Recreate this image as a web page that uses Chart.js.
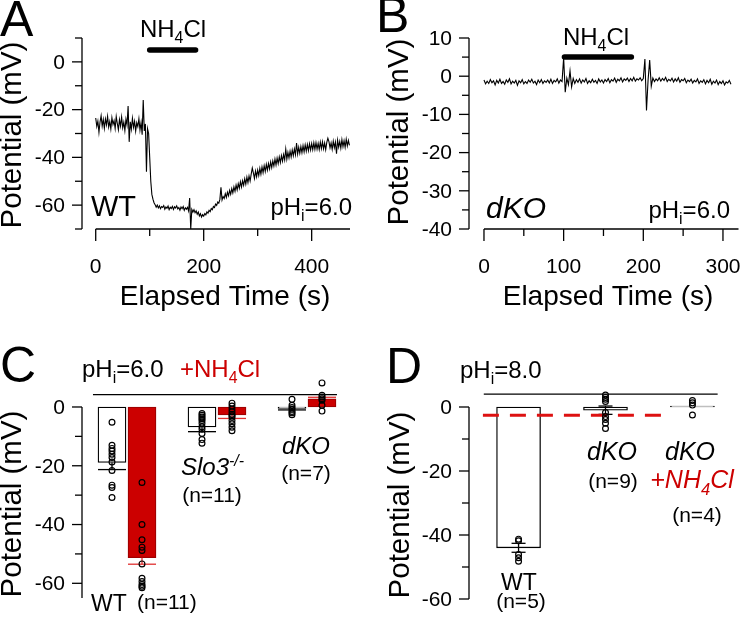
<!DOCTYPE html>
<html><head><meta charset="utf-8">
<script src="https://cdn.jsdelivr.net/npm/chart.js@4.4.1/dist/chart.umd.min.js"></script>
<style>
html,body{margin:0;padding:0;background:#fff;}
#wrap{position:relative;width:740px;height:617px;overflow:hidden;background:#fff;}
canvas{position:absolute;left:0;top:0;}
</style></head><body>
<div id="wrap">
<canvas id="cA" width="740" height="617"></canvas>
<canvas id="cB" width="740" height="617"></canvas>
<canvas id="cC" width="740" height="617"></canvas>
<canvas id="cD" width="740" height="617"></canvas>
</div>
<script>
const FONT = '"Liberation Sans", Arial, Helvetica, sans-serif';
const RED = '#cc0000';

// ---------- Panel A : WT trace (mV), sampled every 2 s from t = 0 ----------
const traceAStart = 0, traceAStep = 2;
const traceA = [
  -23.5,-27.0,-24.8,-29.5,-25.2,-22.6,-26.9,-24.1,-27.8,-23.9,
  -26.4,-22.8,-27.3,-25.0,-28.1,-23.4,-26.2,-24.6,-27.9,-22.9,
  -25.8,-28.4,-24.2,-26.9,-23.1,-27.6,-25.3,-28.8,-24.0,-26.5,
  -18.5,-33.5,-25.1,-28.2,-23.6,-27.4,-24.9,-29.0,-25.5,-27.1,
  -23.8,-28.6,-25.4,-30.5,-16.0,-28.9,-26.0,-46.0,-28.0,-30.0,
  -40.0,-50.0,-55.5,-57.5,-59.0,-59.8,-60.9,-60.0,-61.2,-60.3,
  -61.5,-60.6,-61.0,-60.2,-61.7,-60.8,-61.3,-60.4,-61.9,-60.9,
  -61.4,-60.5,-61.8,-60.7,-61.2,-60.3,-61.6,-61.0,-62.1,-60.8,
  -61.5,-60.6,-62.2,-61.1,-61.7,-60.9,-62.4,-57.0,-70.0,-61.8,
  -62.9,-61.9,-63.2,-62.4,-63.8,-62.9,-64.5,-63.6,-65.0,-64.0,
  -64.6,-63.5,-64.1,-62.8,-63.4,-62.2,-62.7,-61.4,-61.9,-60.6,
  -61.0,-59.6,-60.1,-58.7,-59.2,-57.6,-52.5,-57.8,-56.4,-57.2,
  -55.2,-56.8,-54.6,-56.1,-53.8,-55.5,-53.1,-54.9,-52.4,-54.2,
  -51.6,-53.6,-51.0,-52.9,-50.2,-52.4,-49.8,-51.7,-49.0,-51.2,
  -48.3,-50.6,-47.8,-49.9,-47.0,-44.5,-46.5,-48.8,-45.7,-48.1,
  -45.3,-47.6,-44.6,-47.0,-44.0,-46.4,-43.5,-45.9,-42.9,-45.3,
  -42.6,-44.8,-41.9,-44.3,-41.5,-43.6,-40.7,-43.2,-40.3,-42.6,
  -39.8,-42.2,-39.3,-41.6,-38.8,-41.1,-36.5,-40.7,-37.9,-40.2,
  -37.4,-39.8,-36.9,-39.3,-36.5,-38.9,-34.0,-38.6,-35.8,-38.3,
  -35.5,-38.0,-35.1,-37.7,-34.8,-37.4,-34.6,-37.2,-34.3,-36.9,
  -34.2,-36.8,-33.9,-36.6,-33.8,-36.5,-34.1,-36.7,-33.6,-36.3,
  -33.5,-36.4,-34.0,-36.8,-33.7,-32.0,-33.4,-36.0,-33.9,-36.6,
  -33.2,-35.9,-33.6,-38.5,-32.8,-35.7,-33.3,-36.1,-32.6,-35.5,
  -33.0,-35.8,-32.4,-35.2,-32.9,-35.0
];
const nh4TimesA = [100, 185];
const nh4LevelA = 5;
const aYMajor = [0,-20,-40,-60], aYMinor = [10,-10,-30,-50,-70];
const aXMajor = [0,200,400], aXMinor = [100,300];

// ---------- Panel B : dKO trace (mV), sampled every 2 s from t = 0 ----------
const traceBStart = 0, traceBStep = 2;
const traceB = [
  -1.0,-2.0,-1.3,-1.9,-0.9,-1.7,-1.2,-2.3,-1.1,-1.8,
  -0.8,-1.9,-1.4,-2.1,-1.0,-1.6,-0.7,-2.0,-1.3,-1.8,
  -1.1,-2.4,-1.2,-1.7,-0.9,-2.0,-1.4,-1.9,-1.0,-1.6,
  -0.8,-1.8,-1.3,-2.2,-1.0,-1.7,-0.9,-1.9,-1.2,-1.6,
  -1.0,-1.8,-0.8,-1.9,-1.1,-1.5,-0.7,-1.8,-1.0,-1.4,
  4.8,-4.2,-0.5,-2.2,1.4,-2.8,-0.6,-1.9,-0.9,-1.6,
  -0.7,-1.8,-1.0,-1.5,-0.6,-1.9,-1.2,-1.7,-0.8,-1.6,
  -1.1,-1.9,-0.7,-1.5,-1.0,-1.8,-0.9,-1.4,-0.6,-1.7,
  -0.9,-1.3,-0.5,-1.6,-0.8,-1.2,-0.4,-1.5,-0.7,-1.1,
  -0.5,-1.4,-0.6,-1.2,-0.3,-1.3,-0.7,-1.0,-0.4,-1.2,
  -0.6,4.5,-9.0,-1.0,4.2,-2.6,-0.5,-1.4,-0.7,-1.2,
  -0.4,-1.3,-0.6,-1.1,-0.3,-1.4,-0.8,-1.2,-0.5,-1.5,
  -0.7,-1.3,-0.4,-1.6,-0.9,-1.2,-0.6,-1.7,-1.0,-1.4,
  -0.8,-1.8,-1.1,-1.5,-0.7,-1.9,-1.2,-1.6,-0.9,-2.0,
  -1.1,-1.7,-0.8,-2.1,-1.3,-1.8,-1.0,-2.2,-1.4,-1.9,
  -1.2,-2.3,-1.5,-1.8,-1.1,-2.1
];
const nh4TimesB = [101, 185];
const nh4LevelB = 5;
const bYMajor = [10,0,-10,-20,-30,-40], bYMinor = [5,-5,-15,-25,-35];
const bXMajor = [0,100,200,300], bXMinor = [50,150,250];

// ---------- Panel C : pHi 6.0 summary ----------
const cGroups = ['WT', 'Slo3-/-', 'dKO'];
const cCtrlMean = [-18.9, -6.8, -0.5];
const cNH4Mean  = [-51.3, -2.7, 2.8];
const cCtrlErrEnd = [-21.3, -8.4, -1.0];
const cNH4ErrEnd  = [-53.5, -3.9, 3.3];
const cCtrlDots = [
  [-5.2,-13,-14.1,-15,-16.1,-17.2,-18.7,-21.6,-26.6,-27.4,-30.8],
  [-2.2,-2.8,-3.4,-4.0,-4.6,-5.5,-6.7,-7.6,-9.0,-11.1,-12.3],
  [2.6,0.6,-0.2,-0.8,-1.5,-2.0,-2.6]
];
const cNH4Dots = [
  [-25.7,-40,-45.2,-47.7,-48.8,-53.4,-58.3,-59.4,-60.4,-61,-61.5],
  [1.3,0.3,-0.7,-1.6,-2.5,-3.0,-3.5,-4.6,-5.7,-6.9,-8.1],
  [8.2,4.0,3.4,2.8,2.3,0.6,-1.4]
];
const cRefLevel = 4.2;
const cYMajor = [0,-20,-40,-60], cYMinor = [-10,-30,-50];

// ---------- Panel D : pHi 8.0 summary ----------
const dGroups = ['WT', 'dKO', 'dKO +NH4Cl'];
const dMean = [-44.0, -1.0, 0.3];
const dErrLow = [-45.4, -2.3, null];
const dErrHigh = [-42.6, 0.3, null];
const dDots = [
  [-41.3,-41.8,-46.1,-47.1,-48.2],
  [3.75,3.0,2.4,1.7,-1.7,-3.0,-3.9,-5.1,-6.7],
  [2.0,1.3,0.6,-2.5]
];
const dRefLevel = 4.0;
const dDashLevel = -2.6;
const dYMajor = [0,-20,-40,-60], dYMinor = [-10,-30,-50];

// ---------- helpers ----------
function seg(ctx, x1, y1, x2, y2) { ctx.beginPath(); ctx.moveTo(x1, y1); ctx.lineTo(x2, y2); ctx.stroke(); }

function drawRich(ctx, t) {
  const parts = typeof t.parts === 'string' ? [[t.parts]] : t.parts;
  const size = t.size, style = t.italic ? 'italic ' : '';
  const segs = parts.map(p => {
    const s = p[1] ? size * 0.66 : size;
    ctx.font = style + s + 'px ' + FONT;
    return { text: p[0], kind: p[1], s, w: ctx.measureText(p[0]).width };
  });
  const total = segs.reduce((a, b) => a + b.w, 0);
  ctx.save();
  ctx.fillStyle = t.color || '#000';
  ctx.textAlign = 'left';
  let x, y;
  if (t.rotate) {
    ctx.translate(t.x, t.y); ctx.rotate(-Math.PI / 2);
    ctx.textBaseline = 'middle'; x = -total / 2; y = 0;
  } else {
    ctx.textBaseline = t.baseline || 'alphabetic';
    x = t.align === 'right' ? t.x - total : t.align === 'center' ? t.x - total / 2 : t.x;
    y = t.y;
  }
  segs.forEach(s => {
    ctx.font = style + s.s + 'px ' + FONT;
    const dy = s.kind === 'sub' ? size * 0.26 : s.kind === 'sup' ? -size * 0.36 : 0;
    ctx.fillText(s.text, x, y + dy);
    x += s.w;
  });
  ctx.restore();
}

const DECOR = {};
const TICK_FONT = '21px ' + FONT;

const decorPlugin = {
  id: 'decorPlugin',
  afterDatasetDraw(chart, args) {
    const cfg = DECOR[chart.canvas.id];
    if (!cfg || !cfg.errors || args.meta.type !== 'bar') return;
    const ctx = chart.ctx, xs = chart.scales.x, ys = chart.scales.y;
    ctx.save();
    cfg.errors.forEach(e => {
      ctx.strokeStyle = e.color; ctx.lineWidth = e.lw || 1.3;
      const px = xs.getPixelForValue(e.x);
      const p1 = ys.getPixelForValue(e.from), p2 = ys.getPixelForValue(e.to);
      seg(ctx, px, p1, px, p2);
      seg(ctx, px - e.half, p2, px + e.half, p2);
      if (e.both) seg(ctx, px - e.half, p1, px + e.half, p1);
    });
    ctx.restore();
  },
  afterDraw(chart) {
    const cfg = DECOR[chart.canvas.id];
    if (!cfg) return;
    const ctx = chart.ctx, xs = chart.scales.x, ys = chart.scales.y, ca = chart.chartArea;
    ctx.save();
    ctx.strokeStyle = '#000'; ctx.fillStyle = '#000'; ctx.lineWidth = 1.3; ctx.lineCap = 'butt';
    if (cfg.yAxis) {
      const a = cfg.yAxis, X = ca.left;
      seg(ctx, X, ys.getPixelForValue(a.from), X, ys.getPixelForValue(a.to));
      a.major.forEach(v => { const p = ys.getPixelForValue(v); seg(ctx, X - 10, p, X, p); });
      a.minor.forEach(v => { const p = ys.getPixelForValue(v); seg(ctx, X - 7, p, X, p); });
      ctx.font = TICK_FONT; ctx.textAlign = 'right'; ctx.textBaseline = 'middle';
      a.major.forEach(v => ctx.fillText(String(v), X - 17, ys.getPixelForValue(v) + 1));
    }
    if (cfg.xAxis) {
      const a = cfg.xAxis, Y = ys.getPixelForValue(a.at);
      seg(ctx, xs.getPixelForValue(a.from), Y, xs.getPixelForValue(a.to), Y);
      a.major.forEach(v => { const p = xs.getPixelForValue(v); seg(ctx, p, Y, p, Y + 12); });
      a.minor.forEach(v => { const p = xs.getPixelForValue(v); seg(ctx, p, Y, p, Y + 7); });
      ctx.font = TICK_FONT; ctx.textAlign = 'center'; ctx.textBaseline = 'middle';
      a.major.forEach(v => ctx.fillText(String(v), xs.getPixelForValue(v), Y + 38.5));
    }
    (cfg.texts || []).forEach(t => drawRich(ctx, t));
    ctx.restore();
  }
};
Chart.register(decorPlugin);

function baseOptions(pad, xr, yr) {
  return {
    responsive: false, animation: false, devicePixelRatio: 1, events: [],
    layout: { padding: pad },
    plugins: { legend: { display: false }, tooltip: { enabled: false } },
    scales: {
      x: { type: 'linear', min: xr[0], max: xr[1], display: false, offset: false },
      y: { type: 'linear', min: yr[0], max: yr[1], display: false }
    }
  };
}
const toPts = (vals, start, step) => vals.map((v, i) => ({ x: start + i * step, y: v }));
const pHi = v => [['pH'], ['i', 'sub'], ['=' + v]];
const NH4 = pre => [[pre + 'NH'], ['4', 'sub'], ['Cl']];
const YT = 29.5;

// ---------- Chart A ----------
DECOR.cA = {
  yAxis: { from: 10, to: -70, major: aYMajor, minor: aYMinor },
  xAxis: { at: -70, from: 0, to: 471, major: aXMajor, minor: aXMinor },
  texts: [
    { parts: 'A', size: 50, x: 0, y: 36 },
    { parts: NH4(''), size: 24, x: 173, y: 37, align: 'center' },
    { parts: 'WT', size: 29, x: 91, y: 216 },
    { parts: pHi('6.0'), size: 24, x: 352, y: 215, align: 'right' },
    { parts: 'Potential (mV)', size: YT, x: 13, y: 135, rotate: true },
    { parts: 'Elapsed Time (s)', size: 28, x: 225, y: 297, align: 'center', baseline: 'middle' }
  ]
};
new Chart(document.getElementById('cA'), {
  type: 'line',
  data: { datasets: [
    { data: toPts(traceA, traceAStart, traceAStep), borderColor: '#000', borderWidth: 1.1, pointRadius: 0, tension: 0 },
    { data: nh4TimesA.map(t => ({ x: t, y: nh4LevelA })), borderColor: '#000', borderWidth: 5.5, borderCapStyle: 'round', pointRadius: 0 }
  ]},
  options: baseOptions({ left: 82, top: 38, right: 390, bottom: 388 }, [-25.4, 471], [-70, 10])
});

// ---------- Chart B ----------
DECOR.cB = {
  yAxis: { from: 10, to: -40, major: bYMajor, minor: bYMinor },
  xAxis: { at: -40, from: 0, to: 319.5, major: bXMajor, minor: bXMinor },
  texts: [
    { parts: 'B', size: 50, x: 376, y: 32 },
    { parts: NH4(''), size: 24, x: 596, y: 45, align: 'center' },
    { parts: 'dKO', size: 30, x: 486, y: 218, italic: true },
    { parts: pHi('6.0'), size: 24, x: 730, y: 218, align: 'right' },
    { parts: 'Potential (mV)', size: YT, x: 400, y: 132, rotate: true },
    { parts: 'Elapsed Time (s)', size: 28, x: 608, y: 297, align: 'center', baseline: 'middle' }
  ]
};
new Chart(document.getElementById('cB'), {
  type: 'line',
  data: { datasets: [
    { data: toPts(traceB, traceBStart, traceBStep), borderColor: '#000', borderWidth: 1.1, pointRadius: 0, tension: 0 },
    { data: nh4TimesB.map(t => ({ x: t, y: nh4LevelB })), borderColor: '#000', borderWidth: 5.5, borderCapStyle: 'round', pointRadius: 0 }
  ]},
  options: baseOptions({ left: 469, top: 38, right: 1.5, bottom: 388 }, [-18.8, 319.5], [-40, 10])
});

// ---------- Chart C ----------
const cOff = 1 / 6;
const cBarData = [], cBarFill = [], cBarBorder = [], cErr = [];
cGroups.forEach((g, i) => {
  cBarData.push({ x: i - cOff, y: cCtrlMean[i] }); cBarFill.push('#ffffff'); cBarBorder.push('#000000');
  cBarData.push({ x: i + cOff, y: cNH4Mean[i] }); cBarFill.push(RED); cBarBorder.push('#a00000');
  cErr.push({ x: i - cOff, from: cCtrlMean[i], to: cCtrlErrEnd[i], half: 14, color: '#000' });
  cErr.push({ x: i + cOff, from: cNH4Mean[i], to: cNH4ErrEnd[i], half: 14, color: '#e03030' });
});
const dotStyle = { type: 'scatter', pointRadius: 2.9, borderColor: '#000', backgroundColor: 'rgba(0,0,0,0)', borderWidth: 1.2, pointHoverRadius: 0, order: 0 };
DECOR.cC = {
  yAxis: { from: 0, to: -65, major: cYMajor, minor: cYMinor },
  errors: cErr,
  texts: [
    { parts: 'C', size: 50, x: 0, y: 382 },
    { parts: pHi('6.0'), size: 24, x: 82, y: 377 },
    { parts: NH4('+'), size: 24, x: 180, y: 377, color: RED },
    { parts: 'WT', size: 23, x: 91, y: 611 },
    { parts: '(n=11)', size: 21, x: 137, y: 609 },
    { parts: [['Slo3'], ['-/-', 'sup']], size: 24, x: 181, y: 475, italic: true },
    { parts: '(n=11)', size: 21, x: 212, y: 502, align: 'center' },
    { parts: 'dKO', size: 24, x: 306, y: 454, align: 'center', italic: true },
    { parts: '(n=7)', size: 21, x: 306, y: 480, align: 'center' },
    { parts: 'Potential (mV)', size: YT, x: 13, y: 504, rotate: true }
  ]
};
new Chart(document.getElementById('cC'), {
  type: 'bar',
  data: { datasets: [
    { type: 'bar', data: cBarData, backgroundColor: cBarFill, borderColor: cBarBorder, borderWidth: 1.3, borderSkipped: false, barThickness: 28, order: 2 },
    { type: 'line', data: [{ x: -0.378, y: cRefLevel }, { x: 2.333, y: cRefLevel }], borderColor: '#000', borderWidth: 1.2, pointRadius: 0, order: 1 },
    Object.assign({}, dotStyle, { data: cCtrlDots.flatMap((arr, i) => arr.map(v => ({ x: i - cOff, y: v }))) }),
    Object.assign({}, dotStyle, { data: cNH4Dots.flatMap((arr, i) => arr.map(v => ({ x: i + cOff, y: v }))) })
  ]},
  options: baseOptions({ left: 82, top: 377.6, right: 388, bottom: 19 }, [-0.5, 2.5], [-65, 10])
});

// ---------- Chart D ----------
const dErr = [];
dGroups.forEach((g, i) => {
  if (dErrLow[i] !== null) dErr.push({ x: i, from: dErrLow[i], to: dErrHigh[i], half: 7, color: '#000', both: true });
});
DECOR.cD = {
  yAxis: { from: 0, to: -60, major: dYMajor, minor: dYMinor },
  errors: dErr,
  texts: [
    { parts: 'D', size: 50, x: 386, y: 383 },
    { parts: pHi('8.0'), size: 24, x: 460, y: 378 },
    { parts: 'WT', size: 23, x: 519, y: 590, align: 'center' },
    { parts: '(n=5)', size: 21, x: 521, y: 608, align: 'center' },
    { parts: 'dKO', size: 25, x: 612, y: 460, align: 'center', italic: true },
    { parts: '(n=9)', size: 21, x: 613, y: 488, align: 'center' },
    { parts: 'dKO', size: 25, x: 690, y: 460, align: 'center', italic: true },
    { parts: NH4('+'), size: 25, x: 692, y: 488, align: 'center', italic: true, color: RED },
    { parts: '(n=4)', size: 21, x: 697, y: 522, align: 'center' },
    { parts: 'Potential (mV)', size: YT, x: 401, y: 505, rotate: true }
  ]
};
new Chart(document.getElementById('cD'), {
  type: 'bar',
  data: { datasets: [
    { type: 'bar', data: dMean.map((v, i) => ({ x: i, y: v })), backgroundColor: '#ffffff', borderColor: '#000', borderWidth: 1.3, borderSkipped: false, barThickness: 44, order: 3 },
    { type: 'line', data: [{ x: -0.40, y: dRefLevel }, { x: 2.29, y: dRefLevel }], borderColor: '#000', borderWidth: 1.2, pointRadius: 0, order: 2 },
    { type: 'line', data: [{ x: -0.41, y: dDashLevel }, { x: 1.75, y: dDashLevel }], borderColor: '#dd1111', borderWidth: 3, borderDash: [16, 11], pointRadius: 0, order: 1 },
    Object.assign({}, dotStyle, { data: dDots.flatMap((arr, i) => arr.map(v => ({ x: i, y: v }))) })
  ]},
  options: baseOptions({ left: 469, top: 375, right: 1, bottom: 18 }, [-0.57, 2.5], [-60, 10])
});
</script>
</body></html>
